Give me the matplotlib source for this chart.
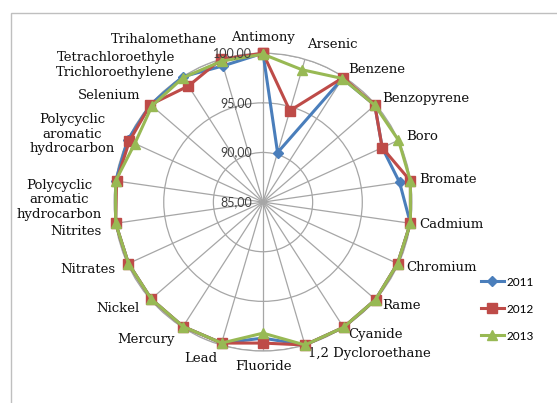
import numpy as np
import matplotlib.pyplot as plt
import matplotlib.transforms as mtransforms
from matplotlib.patches import Rectangle

# parametri misurati (percentuale di conformità) per anno
categories = ['Antimony', 'Arsenic', 'Benzene', 'Benzopyrene', 'Boro', 'Bromate',
              'Cadmium', 'Chromium', 'Rame', 'Cyanide', '1,2 Dycloroethane',
              'Fluoride', 'Lead', 'Mercury', 'Nickel', 'Nitrates', 'Nitrites',
              'Polycyclic\naromatic\nhydrocarbon', 'Polycyclic\naromatic\nhydrocarbon',
              'Selenium', 'Tetrachloroethyle\nTrichloroethylene', 'Trihalomethane']
y2011 = [100.0, 90.2, 99.8, 99.9, 98.2, 98.9, 100.0, 99.9, 100.0, 100.0, 100.0,
         98.7, 99.8, 99.9, 99.9, 99.9, 100.0, 100.0, 100.0, 100.0, 100.0, 99.3]
y2012 = [100.0, 94.6, 99.9, 99.9, 98.2, 100.0, 100.0, 99.9, 100.0, 100.0, 100.0,
         99.2, 99.8, 99.9, 99.9, 99.9, 100.0, 99.9, 99.8, 100.0, 98.9, 100.0]
y2013 = [99.9, 98.9, 99.8, 99.9, 100.0, 100.0, 100.0, 99.9, 100.0, 100.0, 100.0,
         98.2, 99.8, 99.9, 99.9, 99.9, 100.0, 100.0, 99.2, 99.8, 99.9, 99.8]
r_ticks = [85, 90, 95, 100]

n = len(categories)
angles = np.arange(n) * 2 * np.pi / n
ang_c = np.append(angles, angles[0])

fig = plt.figure(figsize=(5.57, 4.03), dpi=100)
fig.patches.append(Rectangle((11 / 557, -0.1), 1.2, 1.1 - 13 / 403, transform=fig.transFigure,
                             fill=False, edgecolor='#BFBFBF', lw=1.0))

ax = fig.add_axes([0.2047, 0.129, 0.535, 0.739], projection='polar')
ax.set_theta_zero_location('N')
ax.set_theta_direction(-1)
ax.set_ylim(85, 100)
ax.set_yticks(r_ticks)
ax.set_yticklabels([])
ax.set_xticks(angles)
ax.set_xticklabels([])
ax.grid(color='#A6A6A6', lw=0.9)
ax.spines['polar'].set_color('#A6A6A6')
ax.spines['polar'].set_linewidth(0.9)

series = [('2011', y2011, '#4A7EBB', 'D', 5),
          ('2012', y2012, '#BE4B48', 's', 6.5),
          ('2013', y2013, '#98B954', '^', 7)]
for i, (name, vals, col, mk, ms) in enumerate(series):
    v = np.append(vals, vals[0])
    ax.plot(ang_c, v, color=col, lw=2.2, marker=mk, ms=ms, mfc=col, mec=col,
            label=name, zorder=3 + i, clip_on=False)

# etichette dell'asse radiale
off = mtransforms.offset_copy(ax.transData, fig=fig, x=-8, y=0, units='points')
for t in r_ticks:
    ax.text(0, t, f'{t:.2f}'.replace('.', ','), transform=off, ha='right', va='center',
            fontsize=9, color='#404040', family='Lato', zorder=10)

# etichette delle categorie, staccate dal cerchio esterno
for a, lab in zip(angles, categories):
    s, c = np.sin(a), np.cos(a)
    left = s < -0.15
    if abs(s) < 0.15:
        ha = 'center'
    else:
        ha = 'left' if s > 0 else 'right'
    if c > 0.9:
        va = 'bottom'
    elif c < -0.99:
        va = 'top'
    elif left and abs(c) < 0.3:
        va = 'top'
    else:
        va = 'center'
    gap = 10.0 if left else 6.5
    tr = ax.transData + mtransforms.ScaledTranslation(gap * s / 72, gap * c / 72,
                                                       fig.dpi_scale_trans)
    ax.text(a, 100, lab, transform=tr, ha=ha, va=va, fontsize=9.5, family='DejaVu Serif',
            color='#111111', multialignment='center', linespacing=1.15)

fig.legend(loc='upper left', bbox_to_anchor=(470 / 557, 1 - 266 / 403), frameon=False,
           labelspacing=1.35, handlelength=2.0, handletextpad=0.2,
           prop={'family': 'Lato', 'size': 8.5})

fig.savefig('out.png', dpi=100)
